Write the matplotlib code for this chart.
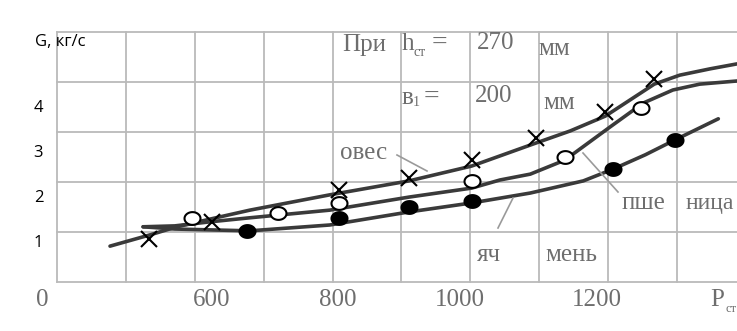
import matplotlib
matplotlib.use('Agg')
import matplotlib.pyplot as plt
import numpy as np
from matplotlib.path import Path

# Кривые G = f(P_ст) для трёх культур
oats_p = [477, 535, 574, 622, 680, 796, 911, 1002, 1095, 1145, 1196, 1232, 1267, 1304, 1348, 1387]
oats_g = [0.93, 1.18, 1.36, 1.53, 1.73, 2.07, 2.38, 2.71, 3.22, 3.49, 3.82, 4.18, 4.53, 4.73, 4.87, 4.98]

wheat_p = [525, 571, 622, 680, 796, 911, 1002, 1043, 1087, 1137, 1203, 1251, 1294, 1333, 1387]
wheat_g = [1.36, 1.38, 1.47, 1.56, 1.73, 2.02, 2.22, 2.40, 2.53, 2.84, 3.58, 4.11, 4.40, 4.53, 4.60]

barley_p = [525, 571, 680, 796, 911, 1002, 1087, 1164, 1207, 1254, 1297, 1360]
barley_g = [1.36, 1.31, 1.27, 1.40, 1.69, 1.89, 2.11, 2.38, 2.64, 2.96, 3.29, 3.76]

# Опытные точки
oats_pts_p = [534, 625, 809, 911, 1002, 1095, 1196, 1267]
oats_pts_g = [1.09, 1.47, 2.18, 2.44, 2.84, 3.33, 3.91, 4.64]
wheat_pts_p = [596, 721, 809, 1002, 1137, 1248]
wheat_pts_g = [1.56, 1.67, 1.89, 2.38, 2.91, 4.00]
barley_pts_p = [676, 809, 911, 1002, 1207, 1297]
barley_pts_g = [1.27, 1.56, 1.80, 1.93, 2.64, 3.29]

y_ticks = [1, 2, 3, 4]
x_tick_labels = ['0', '600', '800', '1000', '1200']
x_tick_pos = [378, 624, 808, 985, 1184]

W, H = 737, 331
fig = plt.figure(figsize=(W / 100, H / 100), dpi=100)
ax = fig.add_axes([0, 0, 1, 1])
ax.set_xlim(317.3, 1387.1)
ax.set_ylim(-0.956, 6.4)
ax.axis('off')

grid_c = '#bababa'
g_lo, g_hi = 0.133, 5.689
for p in range(400, 1301, 100):
    ax.plot([p, p], [g_lo, g_hi], color=grid_c, lw=1.3, zorder=1)
for g in np.linspace(g_lo, g_hi, 6):
    ax.plot([400, 1387.1], [g, g], color=grid_c, lw=1.3, zorder=1)

curve_c = '#3a3a3a'
for px_, gy_ in [(oats_p, oats_g), (wheat_p, wheat_g), (barley_p, barley_g)]:
    ax.plot(px_, gy_, color=curve_c, lw=2.6, solid_capstyle='round',
            solid_joinstyle='round', zorder=3)

# овальный маркер (чуть шире, чем выше)
t = np.linspace(0, 2 * np.pi, 60)
oval = Path(np.column_stack([np.cos(t), 0.8 * np.sin(t)]), closed=True)

ax.plot(oats_pts_p, oats_pts_g, ls='none', marker='x', ms=11, mew=1.5,
        color='black', zorder=5)
ax.plot(wheat_pts_p, wheat_pts_g, ls='none', marker=oval, ms=11.5, mew=1.5,
        mfc='white', mec='black', zorder=5)
ax.plot(barley_pts_p, barley_pts_g, ls='none', marker=oval, ms=11.5, mew=1.5,
        mfc='black', mec='black', zorder=5)

# выноски к надписям
lead_c = '#9a9a9a'
for (x0, y0), (x1, y1) in [((397, 155), (427, 171)),
                           ((583, 153), (618, 192)),
                           ((513, 198), (498, 228))]:
    fig.add_artist(plt.Line2D([x0 / W, x1 / W], [1 - y0 / H, 1 - y1 / H],
                              color=lead_c, lw=1.2, zorder=2))


def ftext(px, py, s, size=18, color='#6e6e6e', ha='left', **kw):
    fig.text(px / W, 1 - py / H, s, fontsize=size, color=color, ha=ha,
             va='center', family='Liberation Serif', **kw)


# подписи оси X
for p, lab in zip(x_tick_pos, x_tick_labels):
    ax.text(p, -0.27, lab, ha='center', va='center', fontsize=18,
            color='#6e6e6e', family='Liberation Serif')
ftext(710, 300, 'P')
ftext(725, 309, 'ст', size=9)

# подписи оси Y
for g in y_ticks:
    ax.text(380, g, str(g), ha='right', va='center', fontsize=12,
            color='black', family='Open Sans')
fig.text(35 / W, 1 - 42 / H, 'G, кг/с', fontsize=12, color='black',
         ha='left', va='center', family='Open Sans')

# условия опыта
ftext(342, 45, 'При')
ftext(402, 44, 'h')
ftext(413, 52, 'ст', size=10)
ftext(432, 43, '=', size=20)
ftext(477, 43, '270')
ftext(538, 49, 'мм', size=18)
ftext(402, 98, 'в')
ftext(413, 103, '1', size=10)
ftext(424, 97, '=', size=20)
ftext(475, 96, '200')
ftext(543, 103, 'мм', size=18)

# названия культур
ftext(340, 153, 'овес')
ftext(622, 203, 'пше')
ftext(686, 203, 'ница', size=17)
ftext(477, 255, 'яч')
ftext(545, 255, 'мень')

fig.savefig('out.png', dpi=100)
